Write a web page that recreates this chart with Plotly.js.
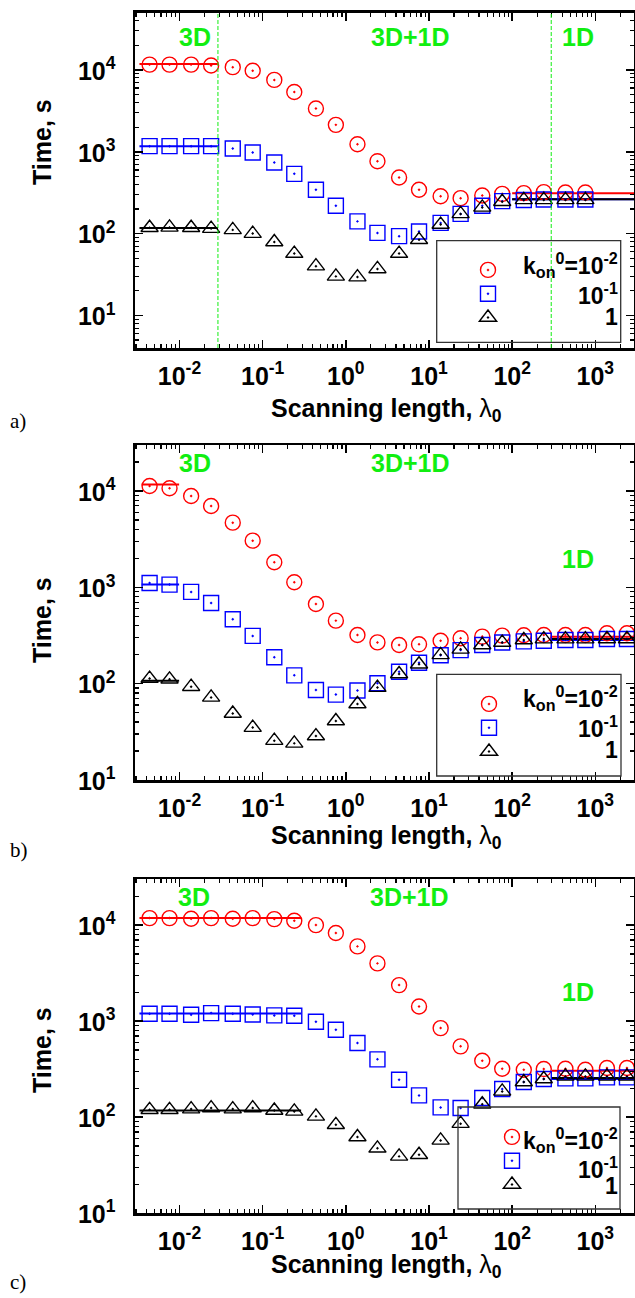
<!DOCTYPE html>
<html><head><meta charset="utf-8">
<script src="https://cdn.plot.ly/plotly-3.0.1.min.js"></script>
<style>html,body{margin:0;padding:0;background:#fff}</style>
</head><body><div id="chart" style="width:635px;height:1298px"></div>
<script>
// ---------- data ----------
const xA = [0.00437, 0.00759, 0.0138, 0.024, 0.0437, 0.0759, 0.138, 0.24, 0.437, 0.759, 1.38, 2.4, 4.37, 7.59, 13.8, 24, 43.7, 75.9, 138, 240, 437, 759];
const xB = [0.00437, 0.00759, 0.0138, 0.024, 0.0437, 0.0759, 0.138, 0.24, 0.437, 0.759, 1.38, 2.4, 4.37, 7.59, 13.8, 24, 43.7, 75.9, 138, 240, 437, 759, 1380, 2400];
const xC = [0.00437, 0.00759, 0.0138, 0.024, 0.0437, 0.0759, 0.138, 0.24, 0.437, 0.759, 1.38, 2.4, 4.37, 7.59, 13.8, 24, 43.7, 75.9, 138, 240, 437, 759, 1380, 2400];

// panel a
const redA   = [11600, 11600, 11600, 11300, 10800, 9770, 7550, 5380, 3370, 2130, 1236, 767, 484, 343, 286, 271, 292, 306, 312, 321, 318, 318];
const blueA  = [1170, 1170, 1170, 1170, 1096, 977, 740, 537, 343, 219, 141, 102, 93, 106, 135, 174, 219, 249, 257, 261, 261, 261];
const blackA = [118, 119, 118, 115, 111, 100, 79, 57, 40, 30, 29.4, 37, 57, 84, 129, 174, 209, 245, 258, 258, 258, 258];
// panel b
const redB   = [11270, 10660, 8870, 6980, 4690, 3050, 1820, 1127, 671, 451, 320, 268, 252, 256, 279, 296, 308, 315, 318, 320, 320, 320, 333, 333];
const blueB  = [1109, 1067, 896, 688, 466, 313, 188, 122, 86, 77, 85, 101, 133, 165, 197, 223, 252, 267, 275, 279, 284, 284, 291, 291];
const blackB = [113, 111, 93, 72, 49, 35, 25.6, 24, 28.6, 41, 61.5, 91, 126, 159, 199, 227, 252, 267, 284, 290, 290, 290, 291, 291];
// panel c
const redC   = [11830, 11830, 11640, 11830, 11640, 11830, 11550, 11090, 10000, 8260, 6000, 3990, 2370, 1420, 845, 545, 386, 318, 311, 316, 318, 311, 324, 324];
const blueC  = [1191, 1191, 1164, 1211, 1191, 1172, 1145, 1137, 984, 813, 590, 399, 245, 168, 126, 124, 158, 196, 232, 249, 253, 253, 259, 259];
const blackC = [119, 119, 121, 124, 121, 124, 117, 114.5, 101.6, 83, 62, 47.2, 38.9, 40.5, 57.1, 85.3, 136, 185, 232, 249, 265, 265, 265, 265];

// limiting (3D and 1D) levels: [red, blue, black]
const leftSpanA = [0.0033, 0.029], rightSpanA = [100, 3000];
const leftLevelsA = [11800, 1170, 117], rightLevelsA = [312, 262, 263];
const leftSpanB = [0.0035, 0.0099], rightSpanB = [300, 3000];
const leftLevelsB = [11700, 1067, 107], rightLevelsB = [307, 284, 291];
const leftSpanC = [0.0033, 0.29], rightSpanC = [300, 3000];
const leftLevelsC = [11830, 1202, 117], rightLevelsC = [304, 249, 255];

// regime boundaries (panel a)
const regimeBounds = [0.029, 295];

const xTickVals = [0.01, 0.1, 1, 10, 100, 1000];
const xTickText = ['10<sup>-2</sup>', '10<sup>-1</sup>', '10<sup>0</sup>', '10<sup>1</sup>', '10<sup>2</sup>', '10<sup>3</sup>'];
const yTickVals = [10, 100, 1000, 10000];
const yTickText = ['10<sup>1</sup>', '10<sup>2</sup>', '10<sup>3</sup>', '10<sup>4</sup>'];
const legendLabels = ['k<sub>on</sub><sup>0</sup>=10<sup>-2</sup>', '10<sup>-1</sup>', '1'];
const regimeLabels = ['3D', '3D+1D', '1D'];

// ---------- styling ----------
const F = 'Liberation Sans, Arial, sans-serif';
const colors = ['#ff0000', '#0000ff', '#000000'];
const symbols = ['circle-open-dot', 'square-open-dot', 'triangle-up-open-dot'];
const msize = [15, 15, 15];
const GREEN = '#11ee11';

const L = 135, R = 1, T = 12, B = 85, W = 635, H = 1298;
const PW = W - L - R, PH = H - T - B;
const px = v => (v - L) / PW;
const py = v => (H - B - v) / PH;

const panels = [
  {x: xA, ys: [redA, blueA, blackA], lSpan: leftSpanA, rSpan: rightSpanA, lLev: leftLevelsA, rLev: rightLevelsA,
   top: 12.7, bot: 348, yr: [Math.log10(4), Math.log10(50000)], legend: 'legend'},
  {x: xB, ys: [redB, blueB, blackB], lSpan: leftSpanB, rSpan: rightSpanB, lLev: leftLevelsB, rLev: rightLevelsB,
   top: 445, bot: 780, yr: [1, Math.log10(30000)], legend: 'legend2'},
  {x: xC, ys: [redC, blueC, blackC], lSpan: leftSpanC, rSpan: rightSpanC, lLev: leftLevelsC, rLev: rightLevelsC,
   top: 879.3, bot: 1213.3, yr: [1, Math.log10(30000)], legend: 'legend3'}
];

const traces = [];
panels.forEach((p, i) => {
  const xa = i === 0 ? 'x' : 'x' + (i + 1);
  const ya = i === 0 ? 'y' : 'y' + (i + 1);
  for (let s = 0; s < 3; s++) {
    traces.push({x: p.lSpan, y: [p.lLev[s], p.lLev[s]], xaxis: xa, yaxis: ya, mode: 'lines',
      line: {color: colors[s], width: 2}, showlegend: false, hoverinfo: 'skip'});
    traces.push({x: p.rSpan, y: [p.rLev[s], p.rLev[s]], xaxis: xa, yaxis: ya, mode: 'lines',
      line: {color: colors[s], width: 2}, showlegend: false, hoverinfo: 'skip'});
  }
  for (let s = 0; s < 3; s++) {
    traces.push({x: p.x, y: p.ys[s], xaxis: xa, yaxis: ya, mode: 'markers', name: ' ',
      legend: p.legend, showlegend: true,
      marker: {symbol: symbols[s], size: msize[s], color: colors[s], line: {color: colors[s], width: 1.4}}});
  }
});

function xAxis(anchor) {
  return {type: 'log', range: [-2.535, 3.465], domain: [0, 1], anchor: anchor,
    showline: true, linewidth: 2.5, linecolor: 'black', mirror: 'allticks',
    ticks: 'inside', ticklen: 8, tickwidth: 1.5, tickcolor: 'black',
    tickmode: 'array', tickvals: xTickVals, ticktext: xTickText,
    tickfont: {family: F, size: 25, weight: 700, color: 'black'},
    ticklabelstandoff: 4,
    minor: {ticks: 'inside', ticklen: 4, tickwidth: 1.2, tickcolor: 'black', dtick: 'D1', showgrid: false},
    showgrid: false, zeroline: false};
}
function yAxis(anchor, p) {
  return {type: 'log', range: p.yr, domain: [py(p.bot), py(p.top)], anchor: anchor,
    showline: true, linewidth: 2.5, linecolor: 'black', mirror: 'allticks',
    ticks: 'inside', ticklen: 8, tickwidth: 1.5, tickcolor: 'black',
    tickmode: 'array', tickvals: yTickVals, ticktext: yTickText,
    tickfont: {family: F, size: 25, weight: 700, color: 'black'},
    ticklabelstandoff: 12, ticklabelshift: 1,
    minor: {ticks: 'inside', ticklen: 4, tickwidth: 1.2, tickcolor: 'black', dtick: 'D1', showgrid: false},
    showgrid: false, zeroline: false};
}

const annotations = [];
const shapes = [];
const textFont = (size, color) => ({family: F, size: size, weight: 700, color: color || 'black'});

// regime labels
const regimePos = [
  [[195, 36.7], [410, 36.7], [578, 36.7]],
  [[195, 462.7], [410, 462.7], [578, 559]],
  [[194, 896.7], [409, 896.7], [578, 991.7]]
];
regimePos.forEach(row => row.forEach((pos, k) => {
  annotations.push({xref: 'paper', yref: 'paper', x: px(pos[0]), y: py(pos[1]), text: regimeLabels[k],
    showarrow: false, xanchor: 'center', yanchor: 'middle', font: textFont(25, GREEN)});
}));

// axis titles
const xTitleY = [410, 837, 1266];
const yTitleY = [142, 620, 1050];
const labelY = [421, 850, 1282];
['a)', 'b)', 'c)'].forEach((lab, i) => {
  annotations.push({xref: 'paper', yref: 'paper', x: px(386), y: py(xTitleY[i]),
    text: 'Scanning length, <span style="font-weight:normal">λ</span><sub>0</sub>',
    showarrow: false, xanchor: 'center', yanchor: 'middle', font: textFont(25)});
  annotations.push({xref: 'paper', yref: 'paper', x: px(42), y: py(yTitleY[i]), text: 'Time, s', textangle: -90,
    showarrow: false, xanchor: 'center', yanchor: 'middle', font: textFont(25)});
  annotations.push({xref: 'paper', yref: 'paper', x: px(8), y: py(labelY[i]), text: lab,
    showarrow: false, xanchor: 'left', yanchor: 'middle',
    font: {family: 'Liberation Serif, serif', size: 21, color: 'black'}});
});

// legend boxes & labels
const legBoxes = [[436.7, 240.7, 620.7, 342.3], [436.7, 674.3, 621, 776], [458, 1107, 620, 1209]];
const legTextY = [[265, 294, 317], [698, 727, 750], [1140, 1168, 1186]];
legBoxes.forEach((b, i) => {
  shapes.push({type: 'rect', xref: 'paper', yref: 'paper', x0: px(b[0]), x1: px(b[2]), y0: py(b[3]), y1: py(b[1]),
    line: {color: '#333', width: 1.3}, fillcolor: 'rgba(0,0,0,0)'});
  legTextY[i].forEach((ty, k) => {
    annotations.push({xref: 'paper', yref: 'paper', x: px(620), y: py(ty), text: legendLabels[k],
      showarrow: false, xanchor: 'right', yanchor: 'middle', font: textFont(23)});
  });
});

// regime boundaries panel a
regimeBounds.forEach(v => {
  shapes.push({type: 'line', xref: 'x', yref: 'y domain', x0: v, x1: v, y0: 0, y1: 1,
    line: {color: GREEN, width: 1, dash: '4px,2px'}});
});

const legSym = [[493, 253], [494, 687], [517, 1120]];
function legend(i) {
  return {x: px(legSym[i][0] - 25), y: py(legSym[i][1]), xanchor: 'left', yanchor: 'top',
    bgcolor: 'rgba(0,0,0,0)', borderwidth: 0, font: {family: F, size: 16}, tracegroupgap: 0,
    itemclick: false};
}

const layout = {
  width: W, height: H, margin: {l: L, r: R, t: T, b: B},
  paper_bgcolor: 'white', plot_bgcolor: 'white',
  font: {family: F, color: 'black'},
  xaxis: xAxis('y'), xaxis2: xAxis('y2'), xaxis3: xAxis('y3'),
  yaxis: yAxis('x', panels[0]), yaxis2: yAxis('x2', panels[1]), yaxis3: yAxis('x3', panels[2]),
  legend: legend(0), legend2: legend(1), legend3: legend(2),
  annotations: annotations, shapes: shapes
};

Plotly.newPlot('chart', traces, layout, {displayModeBar: false, staticPlot: true});
</script></body></html>
